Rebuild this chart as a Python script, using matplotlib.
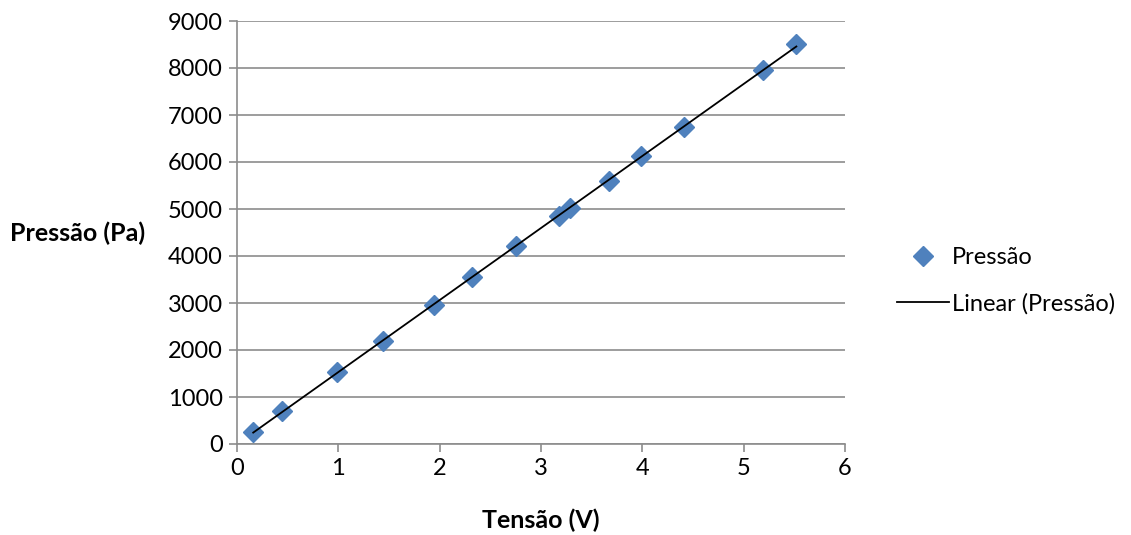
import numpy as np
import matplotlib.pyplot as plt

# leituras do sensor
tensao = [0.16, 0.44, 0.99, 1.44, 1.94, 2.32, 2.75, 3.18, 3.29, 3.67, 3.99, 4.41, 5.19, 5.52]
pressao = [250, 705, 1523, 2200, 2950, 3547, 4206, 4857, 5021, 5602, 6121, 6738, 7957, 8504]

x_ticks = [0, 1, 2, 3, 4, 5, 6]
y_ticks = [0, 1000, 2000, 3000, 4000, 5000, 6000, 7000, 8000, 9000]

plt.rcParams['font.family'] = ['Lato', 'DejaVu Sans']

fig = plt.figure(figsize=(11.31, 5.35), dpi=100)
ax = fig.add_axes([237 / 1131, 1 - 444 / 535, 608 / 1131, 423 / 535])

# linha de tendencia (minimos quadrados)
a, b = np.polyfit(tensao, pressao, 1)
xs = np.array([min(tensao), max(tensao)])
ax.plot(tensao, pressao, linestyle='none', marker='D', markersize=10.5,
        color='#4F81BD', markeredgecolor='#4F81BD', label='Pressão', zorder=3)
ax.plot(xs, a * xs + b, color='black', linewidth=1.3, label='Linear (Pressão)', zorder=4)

ax.set_xlim(0, 6)
ax.set_ylim(0, 9000)
ax.set_xticks(x_ticks)
ax.set_yticks(y_ticks)
ax.grid(axis='y', color='#8c8c8c', linewidth=1.2)
ax.set_axisbelow(True)

for s in ['top', 'right']:
    ax.spines[s].set_visible(False)
for s in ['left', 'bottom']:
    ax.spines[s].set_color('#8c8c8c')
    ax.spines[s].set_linewidth(1.2)
ax.tick_params(axis='both', colors='#8c8c8c', labelcolor='black', labelsize=17,
               length=6, width=1.2, direction='out')
ax.tick_params(axis='y', pad=4)
ax.tick_params(axis='x', pad=4)

fig.text(10 / 1131, 1 - 233 / 535, 'Pressão (Pa)', fontsize=18, fontweight='bold',
         va='center', ha='left')
fig.text(541 / 1131, 1 - 520 / 535, 'Tensão (V)', fontsize=18, fontweight='bold',
         va='center', ha='center')

fig.legend(loc='center left', bbox_to_anchor=(888 / 1131, 1 - 281 / 535),
           frameon=False, fontsize=17, handlelength=2.2, handletextpad=0.1,
           labelspacing=1.05, borderaxespad=0)

fig.savefig('out.png', dpi=100)
